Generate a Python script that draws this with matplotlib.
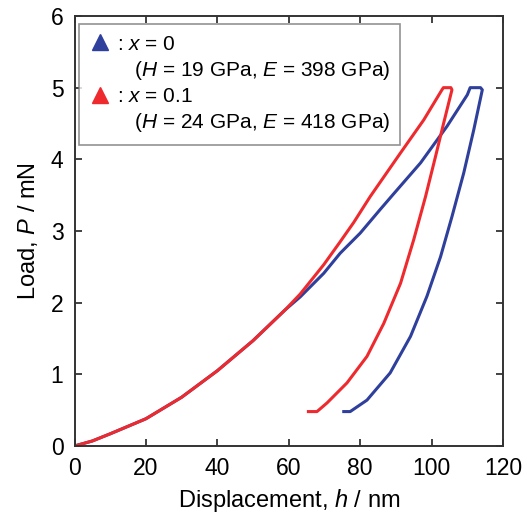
import numpy as np
import matplotlib
matplotlib.use('Agg')
import matplotlib.pyplot as plt
from matplotlib.lines import Line2D

plt.rcParams['font.family'] = ['Liberation Sans', 'DejaVu Sans']
plt.rcParams['mathtext.fontset'] = 'custom'
plt.rcParams['mathtext.rm'] = 'Liberation Sans'
plt.rcParams['mathtext.it'] = 'Liberation Sans:italic'

BLUE = '#2f3f9c'
RED = '#ee2a2e'

# x = 0 : loading, hold at peak, unloading
h_x0 = [0, 5, 10, 20, 30, 40, 50, 59, 63.2, 69.8, 74.4, 80.0, 85.6, 89.4, 96.9,
        104.3, 110.0, 110.8, 113.7,
        114.2, 111.8, 109.0, 105.7, 102.5, 98.7, 94.1, 88.4, 81.9, 77.2, 75.4]
P_x0 = [0, 0.07, 0.17, 0.38, 0.68, 1.05, 1.47, 1.90, 2.08, 2.41, 2.69, 2.97, 3.30,
        3.52, 3.95, 4.46, 4.90, 5.0, 5.0,
        4.97, 4.41, 3.81, 3.20, 2.64, 2.09, 1.53, 1.02, 0.64, 0.48, 0.48]

# x = 0.1
h_x01 = [0, 5, 10, 20, 30, 40, 50, 59, 63.2, 69.8, 74.4, 78.2, 82.8, 91.3, 97.8,
         102.9, 103.3, 105.4,
         105.7, 103.4, 101.1, 98.3, 95.0, 91.3, 86.6, 81.9, 76.3, 70.7, 67.9, 65.5]
P_x01 = [0, 0.07, 0.17, 0.38, 0.68, 1.05, 1.47, 1.90, 2.12, 2.53, 2.85, 3.12, 3.48,
         4.09, 4.55, 4.97, 5.0, 5.0,
         4.97, 4.51, 4.04, 3.48, 2.88, 2.27, 1.71, 1.25, 0.88, 0.60, 0.48, 0.48]

labels = [': $x$ = 0', '   ($H$ = 19 GPa, $E$ = 398 GPa)',
          ': $x$ = 0.1', '   ($H$ = 24 GPa, $E$ = 418 GPa)']

fig = plt.figure(figsize=(5.27, 5.16), dpi=100)
ax = fig.add_axes([0.1414, 0.1357, 0.8131, 0.8333])

ax.plot(h_x0, P_x0, color=BLUE, lw=2.2, solid_joinstyle='round')
ax.plot(h_x01, P_x01, color=RED, lw=2.2, solid_joinstyle='round')

ax.set_xlim(0, 120)
ax.set_ylim(0, 6)
ax.set_xticks(np.arange(0, 121, 20))
ax.set_yticks(np.arange(0, 7, 1))
ax.tick_params(direction='in', top=True, right=True, length=5, width=1.2,
               labelsize=16.5, color='#222222', pad=8)
for s in ax.spines.values():
    s.set_linewidth(1.4)
    s.set_color('#333333')

ax.set_xlabel('Displacement, $h$ / nm', fontsize=17, labelpad=5)
ax.set_ylabel('Load, $P$ / mN', fontsize=17, labelpad=8)

handles = [Line2D([], [], ls='none', marker='^', ms=12, color=BLUE),
           Line2D([], [], ls='none'),
           Line2D([], [], ls='none', marker='^', ms=12, color=RED),
           Line2D([], [], ls='none')]
leg = ax.legend(handles, labels, loc='upper left', bbox_to_anchor=(0.0105, 0.981),
                fontsize=15, frameon=True, fancybox=False, handlelength=1.0,
                handletextpad=0.3, labelspacing=0.25, borderpad=0.5,
                borderaxespad=0)
leg.get_frame().set_edgecolor('#777777')
leg.get_frame().set_linewidth(1.2)

fig.savefig('out.png', dpi=100)
